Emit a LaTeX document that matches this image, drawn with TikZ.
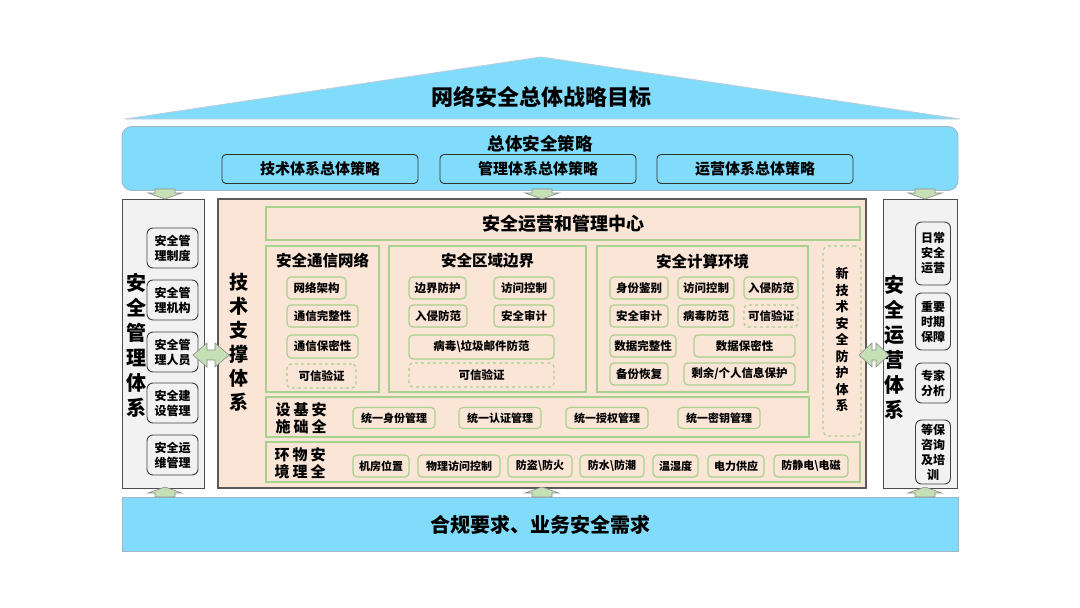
\documentclass[tikz,border=0pt]{standalone}
\usepackage{fontspec}
\setmainfont{Noto Sans CJK SC}
\definecolor{cyanf}{HTML}{80DCFA}
\definecolor{peach}{HTML}{FBE5D6}
\definecolor{greenb}{HTML}{A9D18E}
\definecolor{colgray}{HTML}{F2F2F2}
\definecolor{arrf}{HTML}{C5E0B4}
\definecolor{bordb}{HTML}{A3B5C7}
\newcommand\fsz[2]{\fontsize{#1}{#2}\selectfont}
\tikzset{
  every node/.style={inner sep=0pt, outer sep=0pt, font=\bfseries},
  cyanbox/.style={fill=cyanf, draw=bordb, line width=0.9pt},
  strat/.style={draw=black!80, fill=cyanf, rounded corners=4pt, line width=0.9pt,
    minimum width=196, minimum height=29, font=\bfseries\fsz{15}{18}},
  colbox/.style={fill=colgray, draw=black!70, line width=1pt},
  citem/.style={draw=black!75, rounded corners=6pt, line width=0.9pt, fill=colgray,
    align=center, font=\bfseries\fsz{12}{15}},
  vtitle/.style={align=center, font=\bfseries\fsz{20}{25}},
  grp/.style={draw=greenb, line width=1.2pt},
  item/.style={draw=greenb, line width=1.2pt, rounded corners=4pt, fill=peach,
    minimum height=22, font=\bfseries\fsz{11.5}{14}},
  ditem/.style={item, dashed},
  ritem/.style={item, minimum height=21, font=\bfseries\fsz{11}{13}},
  gtitle/.style={font=\bfseries\fsz{15.5}{18}},
  rlabel/.style={align=center, font=\bfseries\fsz{15}{17}},
  arr/.style={fill=arrf, draw=black!45, line width=0.6pt, line join=miter},
}
\begin{document}
\begin{tikzpicture}[x=1pt,y=-1pt]
\useasboundingbox[fill=white] (0,0) rectangle (1080,608);

% roof
\draw[fill=cyanf, draw=bordb!70, line width=0.8pt] (125,119) -- (541,57) -- (960,119) -- cycle;
\node[font=\bfseries\fsz{22}{26}] (goal) at (541,97) {网络安全总体战略目标};

% strategy
\node[cyanbox, rounded corners=10pt, minimum width=836, minimum height=64] (strategy) at (540,158.5) {};
\node[font=\bfseries\fsz{17.5}{20}] (stratt) at (540,144) {总体安全策略};
\node[strat] (s1) at (320,169) {技术体系总体策略};
\node[strat] (s2) at (538,169) {管理体系总体策略};
\node[strat] (s3) at (755,169) {运营体系总体策略};

% bottom
\node[cyanbox, minimum width=836, minimum height=54] (base) at (540,524) {};
\node[font=\bfseries\fsz{20}{24}] (baset) at (540,525) {合规要求、业务安全需求};

% left column
\node[colbox, minimum width=82, minimum height=289] (mgmt) at (163,343.5) {};
\node[vtitle] (mgmtt) at (136.5,345) {安\\全\\管\\理\\体\\系};
\node[citem, minimum width=51, minimum height=40] (m1) at (172.5,248) {安全管\\理制度};
\node[citem, minimum width=51, minimum height=40] (m2) at (172.5,300) {安全管\\理机构};
\node[citem, minimum width=51, minimum height=40] (m3) at (172.5,352) {安全管\\理人员};
\node[citem, minimum width=51, minimum height=40] (m4) at (172.5,403) {安全建\\设管理};
\node[citem, minimum width=51, minimum height=40] (m5) at (172.5,455) {安全运\\维管理};

% right column
\node[colbox, minimum width=74, minimum height=289] (ops) at (920,343.5) {};
\node[vtitle] (opst) at (894,347) {安\\全\\运\\营\\体\\系};
\node[citem, minimum width=35, minimum height=63] (o1) at (933,253.5) {日常\\安全\\运营};
\node[citem, minimum width=35, minimum height=57] (o2) at (933,321.5) {重要\\时期\\保障};
\node[citem, minimum width=35, minimum height=40] (o3) at (933,383) {专家\\分析};
\node[citem, minimum width=35, minimum height=64] (o4) at (933,452) {等保\\咨询\\及培\\训};

% center
\node[fill=peach, draw=black!65, line width=1.2pt, minimum width=648, minimum height=289] (tech) at (542,343.5) {};
\node[align=center, font=\bfseries\fsz{19}{24}] (techt) at (239,342) {技\\术\\支\\撑\\体\\系};
\node[grp, minimum width=594, minimum height=33] (soc) at (563,223.5) {};
\node[font=\bfseries\fsz{18}{21}] (soct) at (563,224) {安全运营和管理中心};

% group 1
\node[grp, minimum width=113, minimum height=146] (g1) at (322.5,319) {};
\node[gtitle] (g1t) at (322.5,261) {安全通信网络};
\node[item, minimum width=59] (a1) at (316.5,288) {网络架构};
\node[item, minimum width=71] (a2) at (322.5,316) {通信完整性};
\node[item, minimum width=71, minimum height=23] (a3) at (322.5,346.5) {通信保密性};
\node[ditem, minimum width=69, minimum height=24] (a4) at (321.5,376) {可信验证};

% group 2
\node[grp, minimum width=197, minimum height=146] (g2) at (487.5,319) {};
\node[gtitle] (g2t) at (487.5,261) {安全区域边界};
\node[item, minimum width=57] (b1) at (437.5,288) {边界防护};
\node[item, minimum width=60] (b2) at (524,288) {访问控制};
\node[item, minimum width=58] (b3) at (438,316) {入侵防范};
\node[item, minimum width=60] (b4) at (524,316) {安全审计};
\node[item, minimum width=145, minimum height=24] (b5) at (481.5,347) {病毒\textbackslash 垃圾邮件防范};
\node[ditem, minimum width=145, minimum height=24] (b6) at (481.5,375) {可信验证};

% group 3
\node[grp, minimum width=211, minimum height=146] (g3) at (702.5,319) {};
\node[gtitle] (g3t) at (702.5,262) {安全计算环境};
\node[item, minimum width=58] (c1) at (639,288) {身份鉴别};
\node[item, minimum width=56] (c2) at (706,288) {访问控制};
\node[item, minimum width=54] (c3) at (771,288) {入侵防范};
\node[item, minimum width=58] (c4) at (639,316) {安全审计};
\node[item, minimum width=56] (c5) at (706,316) {病毒防范};
\node[ditem, minimum width=54] (c6) at (771,316) {可信验证};
\node[item, minimum width=66] (c7) at (643,346) {数据完整性};
\node[item, minimum width=101] (c8) at (744.5,346) {数据保密性};
\node[item, minimum width=58] (c9) at (639,374) {备份恢复};
\node[item, minimum width=111] (c10) at (739.5,374) {剩余/个人信息保护};

% new tech
\node[grp, dashed, rounded corners=6pt, minimum width=38, minimum height=190] (newt) at (842,341) {};
\node[align=center, font=\bfseries\fsz{13}{16.5}] (newtt) at (842,340) {新\\技\\术\\安\\全\\防\\护\\体\\系};

% infrastructure row
\node[grp, minimum width=543, minimum height=40] (r1) at (537.5,417) {};
\node[rlabel] (r1t) at (301,418) {设\hspace{3pt}基\hspace{3pt}安\\施\hspace{3pt}础\hspace{3pt}全};
\node[ritem, minimum width=82] (i1) at (394,418) {统一身份管理};
\node[ritem, minimum width=82] (i2) at (500,418) {统一认证管理};
\node[ritem, minimum width=82] (i3) at (607,418) {统一授权管理};
\node[ritem, minimum width=82] (i4) at (719,418) {统一密钥管理};

% physical row
\node[grp, minimum width=594, minimum height=40] (r2) at (563,462) {};
\node[rlabel] (r2t) at (300,463) {环\hspace{3pt}物\hspace{3pt}安\\境\hspace{3pt}理\hspace{3pt}全};
\node[ritem, minimum width=56, minimum height=22] (p1) at (381,466) {机房位置};
\node[ritem, minimum width=82, minimum height=22] (p2) at (459,466) {物理访问控制};
\node[ritem, minimum width=64, minimum height=22] (p3) at (540,466) {防盗\textbackslash 防火};
\node[ritem, minimum width=64, minimum height=22] (p4) at (612,466) {防水\textbackslash 防潮};
\node[ritem, minimum width=45, minimum height=22] (p5) at (675.5,466) {温湿度};
\node[ritem, minimum width=56, minimum height=22] (p6) at (736,466) {电力供应};
\node[ritem, minimum width=74, minimum height=22] (p7) at (811,466) {防静电\textbackslash 电磁};

% down arrows (strategy -> columns)
\coordinate (d1) at (165,189);
\coordinate (d2) at (542,189);
\coordinate (d3) at (925,189);
\foreach \p in {d1,d2,d3}
  \draw[arr] (\p) ++(-10,0) -- ++(20,0) -- ++(0,4) -- ++(7,0) -- ++(-17,6) -- ++(-17,-6) -- ++(7,0) -- cycle;
% up arrows (base -> columns)
\coordinate (u1) at (165,497);
\coordinate (u2) at (542,497);
\coordinate (u3) at (925,497);
\foreach \p in {u1,u2,u3}
  \draw[arr] (\p) ++(-10,0) -- ++(20,0) -- ++(0,-4) -- ++(7,0) -- ++(-17,-6) -- ++(-17,6) -- ++(7,0) -- cycle;

% double arrows
\draw[arr] (193,355) -- (207,343) -- (207,350) -- (215,350) -- (215,343) -- (229,355)
  -- (215,367) -- (215,360) -- (207,360) -- (207,367) -- cycle;
\draw[arr] (859,355) -- (872,343) -- (872,350) -- (876,350) -- (876,343) -- (889,355)
  -- (876,367) -- (876,360) -- (872,360) -- (872,367) -- cycle;
\end{tikzpicture}
\end{document}
